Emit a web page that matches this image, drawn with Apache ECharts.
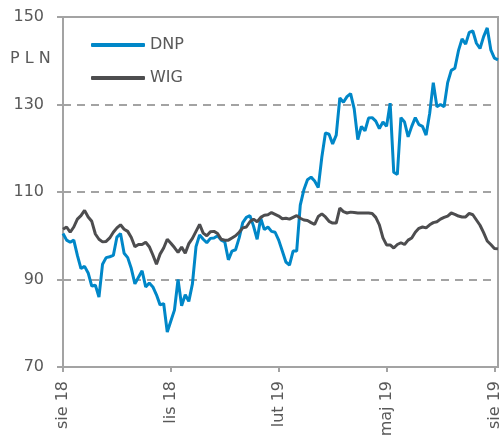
<!DOCTYPE html>
<html>
<head>
<meta charset="utf-8">
<script src="https://cdn.jsdelivr.net/npm/echarts@6/dist/echarts.min.js"></script>
<style>
  html, body { margin: 0; padding: 0; background: #fff; }
  #line { width: 503px; height: 441px; }
</style>
</head>
<body>
<div id="line"></div>
<script>
// tick labels, one every 30 points (quarterly)
var tickLabels = ['sie 18', 'lis 18', 'lut 19', 'maj 19', 'sie 19'];
var tickEvery = 30;

var dnp = [
	100.5, 99, 98.5, 99, 95.5, 92.5, 93, 91.5, 88.5, 88.7,
	86, 93.5, 95, 95.2, 95.5, 99.7, 100.5, 96, 95, 92.5,
	89, 90.5, 92, 88.3, 89.2, 88.3, 86.5, 84.2, 84.5, 78,
	80.5, 83, 90, 84, 86.5, 85, 89, 97.5, 100.2, 99.2,
	98.4, 99.4, 99.5, 100, 99, 98.6, 94.5, 96.5, 96.8, 99.5,
	103, 104.2, 104.6, 102.2, 99.2, 104, 101.4, 102, 101, 100.8,
	99, 96.5, 94, 93.3, 96.5, 96.5, 107, 110.5, 112.8, 113.4,
	112.5, 111, 118, 123.5, 123.2, 121, 123, 131.5, 130.5, 131.8,
	132.5, 129, 122, 125, 124, 126.9, 127, 126.2, 124.5, 126,
	125, 130.3, 114.5, 114, 127, 126, 122.6, 125, 127, 125.4,
	125, 123, 128, 135, 129.5, 130, 129.5, 135, 137.8, 138.3,
	142.3, 145, 143.8, 146.5, 146.8, 144, 142.8, 145.5, 147.5, 142.5,
	140.6, 140.2
];

var wig = [
	101.5, 102, 100.8, 102, 103.8, 104.6, 105.8, 104.3, 103.3, 100.4,
	99.2, 98.6, 98.7, 99.5, 100.8, 101.8, 102.5, 101.5, 101, 99.6,
	97.5, 98, 98, 98.5, 97.5, 95.6, 93.5, 95.8, 97.2, 99.2,
	98.3, 97.3, 96.2, 97.4, 96, 98.2, 99.4, 101, 102.6, 100.6,
	100, 100.9, 101, 100.5, 99.2, 99, 99, 99.5, 100, 100.8,
	101.8, 102, 103.2, 103.8, 103.2, 104.2, 104.7, 104.8, 105.3, 104.9,
	104.5, 103.9, 104, 103.8, 104.2, 104.6, 104, 103.6, 103.5, 103,
	102.6, 104.4, 105, 104.3, 103.3, 102.9, 102.9, 106.3, 105.5, 105.2,
	105.4, 105.3, 105.2, 105.2, 105.2, 105.2, 105.1, 104.2, 102.5, 99.5,
	97.9, 97.9, 97.2, 98, 98.4, 98, 99, 99.5, 100.8, 101.7,
	102, 101.8, 102.5, 103, 103.2, 103.8, 104.2, 104.5, 105.2, 104.9,
	104.5, 104.3, 104.3, 105.1, 104.8, 103.6, 102.4, 100.7, 98.8, 98,
	97.1, 97
];

var categories = [];
for (var i = 0; i < dnp.length; i++) {
	categories.push(i % tickEvery === 0 ? tickLabels[i / tickEvery] : '');
}

var line = echarts.init(document.getElementById('line'));

var axisGray = '#a3a3a3';
var textGray = '#595959';
var font = 'DejaVu Sans';

var option = {
	animation: false,
	grid: {
		left: 63,
		right: 5,
		top: 17,
		bottom: 74,
		show: true,
		borderColor: axisGray,
		borderWidth: 2
	},
	legend: {
		orient: 'vertical',
		left: 86,
		top: 32,
		itemGap: 17,
		itemWidth: 54,
		itemHeight: 4,
		icon: 'roundRect',
		textStyle: {
			color: textGray,
			fontSize: 16,
			fontFamily: font
		},
		data: ['DNP', 'WIG']
	},
	graphic: [{
		type: 'text',
		left: 10,
		top: 51,
		style: {
			text: 'P L N',
			fill: textGray,
			font: '16px "DejaVu Sans"'
		}
	}],
	xAxis: {
		type: 'category',
		boundaryGap: false,
		data: categories,
		axisLine: { lineStyle: { color: axisGray, width: 2 } },
		axisTick: {
			length: 5,
			lineStyle: { color: axisGray, width: 2 },
			interval: function (idx) { return idx % tickEvery === 0; }
		},
		axisLabel: {
			rotate: 90,
			margin: 14,
			color: textGray,
			fontSize: 16,
			fontFamily: font,
			interval: function (idx) { return idx % tickEvery === 0; }
		},
		splitLine: { show: false }
	},
	yAxis: {
		type: 'value',
		min: 70,
		max: 150,
		interval: 20,
		axisLine: { show: true, lineStyle: { color: axisGray, width: 2 } },
		axisTick: { show: true, length: 6, lineStyle: { color: axisGray, width: 2 } },
		axisLabel: {
			margin: 19,
			color: textGray,
			fontSize: 16,
			fontFamily: font
		},
		splitLine: {
			show: true,
			showMinLine: false,
			showMaxLine: false,
			lineStyle: { color: axisGray, width: 2, type: [8, 6] }
		}
	},
	series: [{
		name: 'DNP',
		type: 'line',
		showSymbol: false,
		lineStyle: { width: 3 },
		data: dnp
	}, {
		name: 'WIG',
		type: 'line',
		showSymbol: false,
		lineStyle: { width: 3 },
		data: wig
	}],
	color: ['#0087c8', '#4d4d4f']
};

line.setOption(option);
</script>
</body>
</html>
